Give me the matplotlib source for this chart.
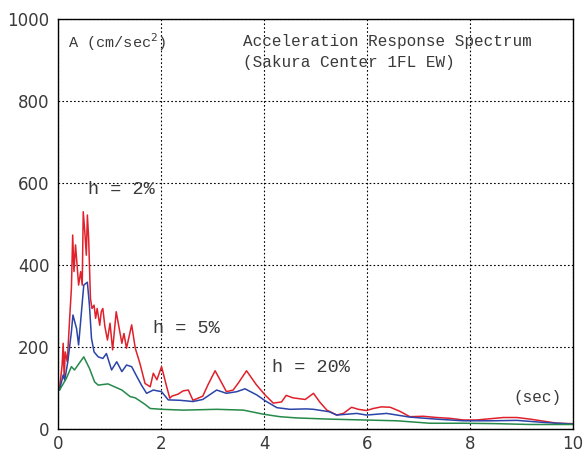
import matplotlib
matplotlib.use("Agg")
from matplotlib import pyplot as plt

# period (sec) and response (cm/sec^2)
t_h2 = [0.0, 0.03, 0.08, 0.10, 0.12, 0.14, 0.18, 0.23, 0.26, 0.285, 0.31, 0.34,
        0.375, 0.40, 0.44, 0.47, 0.49, 0.52, 0.55, 0.57, 0.595, 0.63, 0.66, 0.70,
        0.73, 0.76, 0.81, 0.84, 0.87, 0.91, 0.96, 1.01, 1.06, 1.13, 1.17, 1.24,
        1.28, 1.33, 1.43, 1.50, 1.59, 1.69, 1.79, 1.85, 1.92, 2.01, 2.11, 2.17,
        2.21, 2.33, 2.43, 2.53, 2.62, 2.81, 2.92, 3.05, 3.18, 3.27, 3.40, 3.50,
        3.66, 3.85, 4.02, 4.18, 4.34, 4.43, 4.56, 4.80, 4.96, 5.08, 5.22, 5.41,
        5.54, 5.70, 5.83, 5.99, 6.12, 6.28, 6.45, 6.64, 6.83, 7.09, 7.35, 7.61,
        7.87, 8.13, 8.39, 8.65, 8.91, 9.17, 9.43, 9.69, 10.0]
a_h2 = [99, 100, 156, 209, 124, 188, 164, 278, 343, 473, 384, 449,
        392, 351, 384, 351, 530, 481, 424, 522, 465, 318, 294, 302,
        270, 294, 253, 286, 294, 250, 217, 258, 193, 286, 258, 209,
        233, 197, 254, 197, 160, 111, 103, 136, 120, 152, 103, 75,
        80, 85, 93, 95, 70, 80, 110, 142, 112, 91, 95, 112,
        142, 108, 83, 63, 66, 82, 76, 72, 87, 66, 46, 34,
        38, 53, 48, 45, 50, 54, 53, 43, 30, 31, 28, 26,
        22, 22, 25, 28, 28, 24, 19, 14, 13]

t_h5 = [0.0, 0.03, 0.10, 0.13, 0.19, 0.26, 0.29, 0.36, 0.40, 0.45, 0.50, 0.57,
        0.61, 0.65, 0.70, 0.78, 0.87, 0.94, 1.04, 1.14, 1.24, 1.33, 1.43, 1.53,
        1.62, 1.72, 1.85, 2.01, 2.14, 2.37, 2.62, 2.81, 3.08, 3.27, 3.47, 3.63,
        3.86, 4.02, 4.25, 4.50, 4.82, 4.96, 5.27, 5.41, 5.80, 5.99, 6.38, 6.83,
        7.35, 7.87, 8.39, 8.91, 9.43, 10.0]
a_h5 = [95, 95, 132, 119, 164, 237, 278, 245, 205, 278, 351, 358,
        302, 221, 188, 176, 172, 184, 144, 164, 140, 156, 152, 128,
        107, 87, 95, 91, 71, 70, 67, 72, 95, 87, 91, 98,
        83, 69, 52, 48, 49, 48, 42, 34, 38, 34, 38, 29,
        24, 20, 20, 21, 16, 12]

t_h20 = [0.0, 0.03, 0.16, 0.26, 0.32, 0.50, 0.61, 0.71, 0.78, 0.97, 1.24,
         1.40, 1.50, 1.69, 1.79, 2.01, 2.43, 3.08, 3.60, 3.99, 4.31, 4.63,
         5.28, 5.93, 6.58, 7.22, 7.87, 8.52, 9.17, 10.0]
a_h20 = [95, 95, 123, 152, 144, 176, 148, 115, 107, 110, 95,
         79, 76, 60, 50, 48, 46, 48, 46, 36, 30, 27,
         24, 22, 20, 14, 14, 13, 11, 11]

x_ticks = [0, 2, 4, 6, 8, 10]
y_ticks = [0, 200, 400, 600, 800, 1000]

mono = "Liberation Mono"
txt_color = "#3a3a3a"

fig = plt.figure(figsize=(5.83, 4.53), dpi=100)
ax = fig.add_axes([0.0995, 0.053, 0.8835, 0.905])

ax.plot(t_h2, a_h2, color="#e0202a", lw=1.1)
ax.plot(t_h5, a_h5, color="#2a44a8", lw=1.1)
ax.plot(t_h20, a_h20, color="#25894a", lw=1.1)

ax.set_xlim(0, 10)
ax.set_ylim(0, 1000)
ax.set_xticks(x_ticks)
ax.set_yticks(y_ticks)
ax.tick_params(length=0, labelsize=12, colors=txt_color, pad=6)
ax.tick_params(axis="x", pad=4)
ax.grid(True, color="black", linestyle=(0, (1.5, 2)), lw=0.8)
for s in ax.spines.values():
    s.set_color("black")
    s.set_linewidth(1.0)

ax.text(0.19, 944, "A (cm/sec$^2$)", family=mono, fontsize=11, color=txt_color, va="center")
ax.text(3.59, 944, "Acceleration Response Spectrum", family=mono, fontsize=11.5,
        color=txt_color, va="center")
ax.text(3.59, 893, "(Sakura Center 1FL EW)", family=mono, fontsize=11.5,
        color=txt_color, va="center")
ax.text(0.58, 583, "h = 2%", family=mono, fontsize=13.3, color=txt_color, va="center")
ax.text(1.84, 246, "h = 5%", family=mono, fontsize=13.3, color=txt_color, va="center")
ax.text(4.16, 149, "h = 20%", family=mono, fontsize=13.3, color=txt_color, va="center")
ax.text(8.85, 78, "(sec)", family=mono, fontsize=11.5, color=txt_color, va="center")

fig.savefig("out.png", dpi=100)
